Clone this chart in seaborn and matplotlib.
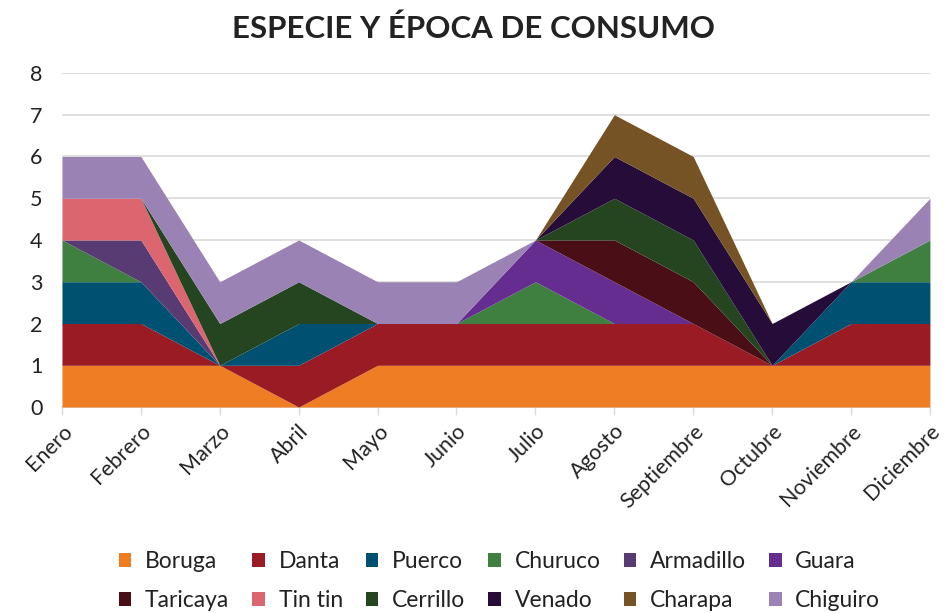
import matplotlib
matplotlib.use("Agg")
import matplotlib.pyplot as plt
from matplotlib.patches import Patch
import seaborn as sns
import numpy as np

meses = ["Enero", "Febrero", "Marzo", "Abril", "Mayo", "Junio", "Julio",
         "Agosto", "Septiembre", "Octubre", "Noviembre", "Diciembre"]

especies = ["Boruga", "Danta", "Puerco", "Churuco", "Armadillo", "Guara",
            "Taricaya", "Tin tin", "Cerrillo", "Venado", "Charapa", "Chiguiro"]

boruga    = [1, 1, 1, 0, 1, 1, 1, 1, 1, 1, 1, 1]
danta     = [1, 1, 0, 1, 1, 1, 1, 1, 1, 0, 1, 1]
puerco    = [1, 1, 0, 1, 0, 0, 0, 0, 0, 0, 1, 1]
churuco   = [1, 0, 0, 0, 0, 0, 1, 0, 0, 0, 0, 1]
armadillo = [0, 1, 0, 0, 0, 0, 0, 0, 0, 0, 0, 0]
guara     = [0, 0, 0, 0, 0, 0, 1, 1, 0, 0, 0, 0]
taricaya  = [0, 0, 0, 0, 0, 0, 0, 1, 1, 0, 0, 0]
tintin    = [1, 1, 0, 0, 0, 0, 0, 0, 0, 0, 0, 0]
cerrillo  = [0, 0, 1, 1, 0, 0, 0, 1, 1, 0, 0, 0]
venado    = [0, 0, 0, 0, 0, 0, 0, 1, 1, 1, 0, 0]
charapa   = [0, 0, 0, 0, 0, 0, 0, 1, 1, 0, 0, 0]
chiguiro  = [1, 1, 1, 1, 1, 1, 0, 0, 0, 0, 0, 1]

colores = ["#EE7D23", "#9B1B24", "#005072", "#3F7F3F", "#573B72", "#662D91",
           "#4A0E16", "#DC6670", "#244520", "#250C39", "#755324", "#9B82B4"]

sns.set_theme(style="white")
plt.rcParams['font.family'] = ['Lato', 'DejaVu Sans']

fig = plt.figure(figsize=(9.46, 6.13), dpi=100)
ax = fig.add_axes([0.0655, 0.336, 0.9175, 0.545])

x = np.arange(len(meses))
series = [boruga, danta, puerco, churuco, armadillo, guara,
          taricaya, tintin, cerrillo, venado, charapa, chiguiro]
pal = sns.color_palette(colores)
ax.stackplot(x, *series, colors=pal, linewidth=0, zorder=3)

ax.set_xlim(0, len(meses) - 1)
ax.set_ylim(0, 8)
ax.set_yticks(range(0, 9))
ax.yaxis.grid(True, color="#d9d9d9", linewidth=1.2, zorder=0)
ax.set_xticks(x)
ax.set_xticklabels(meses, rotation=45, ha="right", rotation_mode="anchor",
                   fontsize=15.5, color="#222222")
ax.tick_params(axis="y", labelsize=15.5, labelcolor="#222222", length=0, pad=14)
ax.tick_params(axis="x", bottom=True, length=6, width=1, color="#d9d9d9", pad=4)
for s in ["top", "right", "left"]:
    ax.spines[s].set_visible(False)
ax.spines["bottom"].set_color("#d9d9d9")
ax.spines["bottom"].set_linewidth(1.2)

fig.text(0.5, 0.953, "ESPECIE Y ÉPOCA DE CONSUMO", ha="center", va="center",
         fontsize=22.5, fontweight="bold", color="#222222")

# legend filled row by row (matplotlib fills columns first)
ncol = 6
orden = [r * ncol + c for c in range(ncol) for r in range(2)]
handles = [Patch(facecolor=pal[i], edgecolor="none") for i in orden]
labels = [especies[i] for i in orden]
fig.legend(handles, labels, loc="lower center", bbox_to_anchor=(0.528, -0.03),
           ncol=ncol, frameon=False, fontsize=16.5, handlelength=0.55,
           handleheight=0.55, handletextpad=0.6, columnspacing=1.0,
           labelspacing=0.78, labelcolor="#222222")

fig.savefig("out.png", dpi=100)
